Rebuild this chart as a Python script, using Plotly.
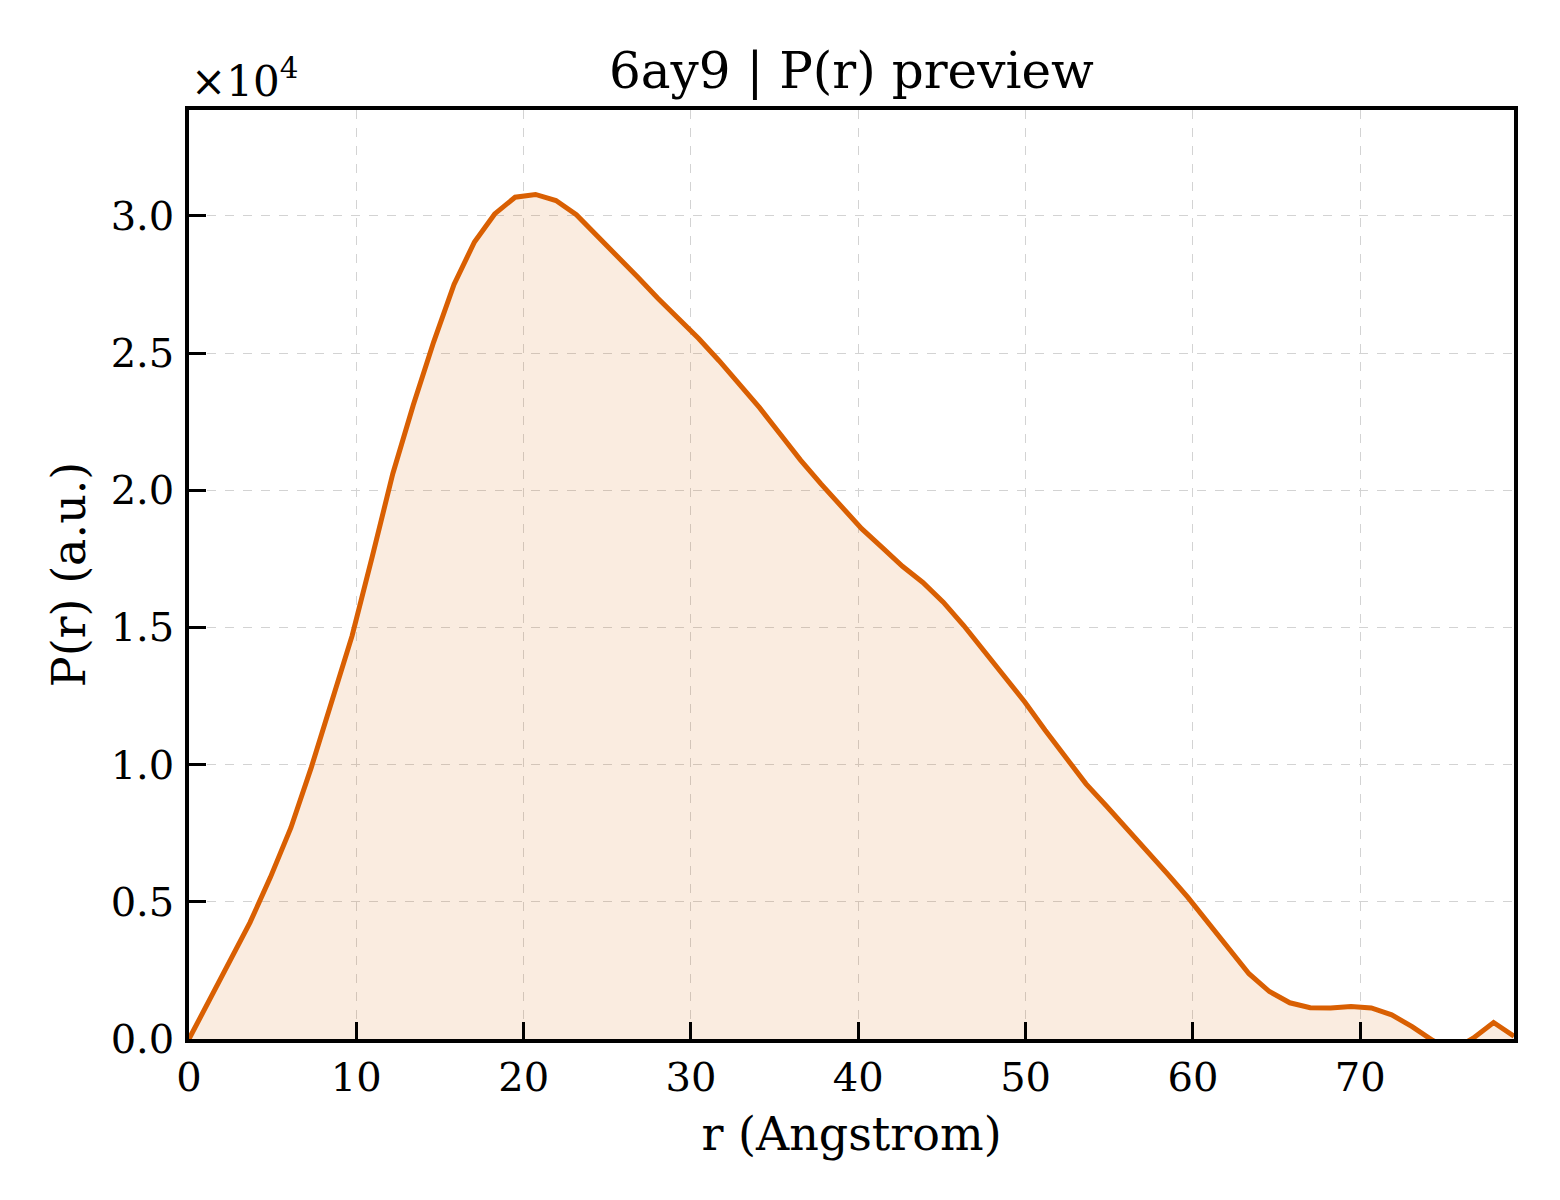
import plotly.graph_objects as go

r_vals = [
    0.00, 1.22, 2.44, 3.65, 4.87, 6.09, 7.31, 8.53, 9.75, 10.96, 12.18,
    13.40, 14.62, 15.84, 17.06, 18.27, 19.49, 20.71, 21.93, 23.15, 24.37, 25.58,
    26.80, 28.02, 29.24, 30.46, 31.68, 32.89, 34.11, 35.33, 36.55, 37.77, 38.99,
    40.20, 41.42, 42.64, 43.86, 45.08, 46.30, 47.52, 48.73, 49.95, 51.17, 52.39,
    53.61, 54.83, 56.05, 57.27, 58.48, 59.70, 60.92, 62.13, 63.35, 64.57, 65.79,
    67.01, 68.23, 69.45, 70.66, 71.88, 73.10, 74.32, 75.53, 76.75, 77.97, 79.19,
]
pr_vals = [
    0, 1400, 2800, 4250, 5900, 7700, 9900, 12300, 14700, 17600, 20600,
    23100, 25400, 27500, 29050, 30070, 30680, 30780, 30560, 30040, 29300, 28560,
    27780, 27000, 26270, 25530, 24720, 23860, 23000, 22050, 21100, 20230, 19400,
    18600, 17920, 17230, 16640, 15920, 15070, 14130, 13200, 12280, 11250, 10240,
    9300, 8490, 7680, 6870, 6020, 5160, 4210, 3300, 2380, 1730, 1320,
    1140, 1130, 1180, 1130, 880, 450, -50, -400, 30, 600, 100,
]
pdb_id = "6ay9"
scale = 1e4

y_scaled = [v / scale for v in pr_vals]
ymax = 1.1 * max(y_scaled)

orange = "#D95F02"
font_family = "DejaVu Serif"

fig = go.Figure()
fig.add_trace(go.Scatter(
    x=r_vals, y=y_scaled, mode="lines",
    line=dict(color=orange, width=5),
    fill="tozeroy", fillcolor="rgba(217,95,2,0.12)",
    showlegend=False,
))

axis_common = dict(
    showline=True, linecolor="black", linewidth=3.5, mirror=True,
    ticks="inside", ticklen=17, tickwidth=3, tickcolor="black",
    showgrid=True, gridcolor="#d3d3d3", gridwidth=1.4, griddash="dash",
    zeroline=False,
    tickfont=dict(family=font_family, size=40, color="black"),
    title_font=dict(family=font_family, size=46, color="black"),
)

fig.update_xaxes(axis_common, range=[0, max(r_vals)], tick0=0, dtick=10,
                 title_text="r (Angstrom)", title_standoff=20,
                 ticklabelstandoff=0)
fig.update_yaxes(axis_common, range=[0, ymax], tick0=0, dtick=0.5,
                 tickformat=".1f", title_text="P(r) (a.u.)", title_standoff=12,
                 ticklabelstandoff=3)

fig.add_annotation(
    text="×10<sup>4</sup>", xref="paper", yref="paper", x=0, y=1,
    xanchor="left", yanchor="bottom", showarrow=False, yshift=2,
    font=dict(family=font_family, size=42, color="black"),
)

# page body keeps an 8px margin, so the figure is 8px smaller than the window
fig.update_layout(
    width=1552, height=1192,
    margin=dict(l=181, r=46, t=102, b=161),
    paper_bgcolor="white", plot_bgcolor="white",
    title=dict(text=f"{pdb_id} | P(r) preview", x=0.5434, xanchor="center",
               y=1 - 62 / 1192, yanchor="middle", yref="container",
               font=dict(family=font_family, size=50, color="black")),
)

fig.write_html("out.html")
